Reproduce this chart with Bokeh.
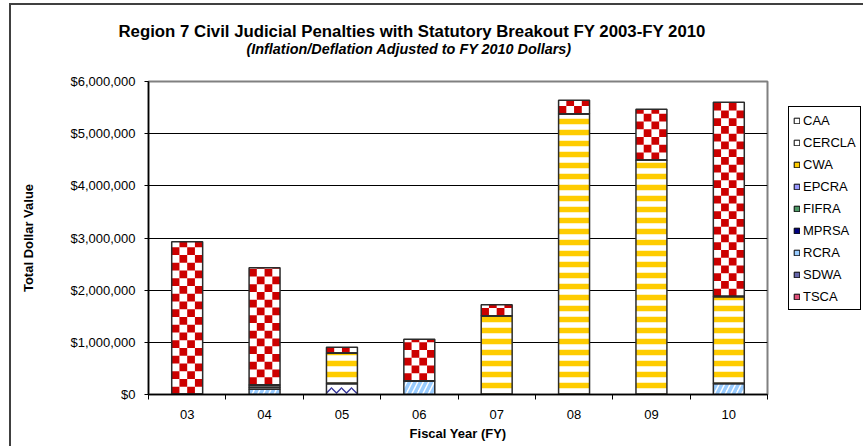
from bokeh.plotting import figure
from bokeh.layouts import row, column
from bokeh.models import (ColumnDataSource, Range1d, FixedTicker, NumeralTickFormatter,
                          Legend, LegendItem, Title, Spacer)
from bokeh.embed import file_html
from bokeh.resources import INLINE

years = ["03", "04", "05", "06", "07", "08", "09", "10"]
CAA = [0, 40000, 0, 0, 0, 0, 0, 0]
CERCLA = [0, 40000, 0, 0, 0, 0, 0, 0]
CWA = [0, 0, 580000, 0, 1510000, 5380000, 4490000, 1670000]
EPCRA = [0, 0, 0, 0, 0, 0, 0, 0]
FIFRA = [0, 0, 0, 0, 0, 0, 0, 0]
MPRSA = [0, 0, 0, 0, 0, 0, 0, 0]
RCRA = [0, 100000, 0, 260000, 0, 0, 0, 210000]
SDWA = [0, 0, 210000, 0, 0, 0, 0, 0]
TSCA = [2930000, 2250000, 115000, 800000, 210000, 260000, 980000, 3720000]
y_ticks = [0, 1000000, 2000000, 3000000, 4000000, 5000000, 6000000]

legend_names = ["CAA", "CERCLA", "CWA", "EPCRA", "FIFRA", "MPRSA", "RCRA", "SDWA", "TSCA"]
legend_colors = ["#FFFFFF", "#FFFFFF", "#FFCC00", "#9999FF", "#4D9966", "#000080",
                 "#99CCFF", "#6666AA", "#E0507A"]

FONT = "Liberation Sans"
FRAME_W, FRAME_H = 619, 313
Y_MAX = 6000000
BAR_W = 0.4
xpos = [i + 1 for i in range(len(years))]
series = {"SDWA": SDWA, "RCRA": RCRA, "CAA": CAA, "CERCLA": CERCLA, "CWA": CWA,
          "EPCRA": EPCRA, "FIFRA": FIFRA, "MPRSA": MPRSA, "TSCA": TSCA}
stack_order = ["SDWA", "RCRA", "CAA", "CERCLA", "CWA", "EPCRA", "FIFRA", "MPRSA", "TSCA"]

src = ColumnDataSource(dict(x=xpos, **series))

p = figure(frame_width=FRAME_W, frame_height=FRAME_H, output_backend="svg",
           toolbar_location=None,
           x_range=Range1d(0.5, len(years) + 0.5), y_range=Range1d(0, Y_MAX),
           min_border_left=137, min_border_right=96, min_border_top=76, min_border_bottom=52,
           title=None)
p.background_fill_color = "white"
p.border_fill_color = "white"
p.outline_line_color = "#808080"
p.outline_line_width = 2

hatch_pat = {"SDWA": "horizontal_wave", "RCRA": "right_diagonal_line", "CWA": "horizontal_line"}
hatch_col = {"SDWA": "#333399", "RCRA": "#99CCFF", "CWA": "#FFCC00"}
hatch_sc = {"SDWA": 10, "RCRA": 11, "CWA": 11}
hatch_w = {"SDWA": 1.3, "RCRA": 3.5, "CWA": 5.5}

p.vbar_stack(stack_order, x="x", width=BAR_W, source=src,
             fill_color="white", line_color=None,
             hatch_pattern=[hatch_pat.get(s, " ") for s in stack_order],
             hatch_color=[hatch_col.get(s, "white") for s in stack_order],
             hatch_scale=[hatch_sc.get(s, 8) for s in stack_order],
             hatch_weight=[hatch_w.get(s, 1) for s in stack_order])

# red/white checkerboard fill of the TSCA segments (cells derived from the data + scale)
cell_px = 7.75
cell_h = cell_px * Y_MAX / FRAME_H
ncols = 4
cell_w = BAR_W / ncols
L, R, B, T = [], [], [], []
for i, xc in enumerate(xpos):
    base = sum(series[s][i] for s in stack_order[:-1])
    top = base + TSCA[i]
    k = 0
    while base + k * cell_h < top - 1:
        rb = base + k * cell_h
        rt = min(rb + cell_h, top)
        for c in range(ncols):
            if (k + c) % 2 == 0:
                L.append(xc - BAR_W / 2 + c * cell_w)
                R.append(xc - BAR_W / 2 + (c + 1) * cell_w)
                B.append(rb)
                T.append(rt)
        k += 1
p.quad(left=L, right=R, bottom=B, top=T, fill_color="#CC0000", line_color=None)

# segment outlines
p.vbar_stack(stack_order, x="x", width=BAR_W, source=src,
             fill_color=None, line_color="#2b2b2b", line_width=1.5)

# legend swatches: zero-size bars (nothing visible on the plot)
items = []
for name, col in zip(legend_names, legend_colors):
    r = p.vbar(x="x", top=0, bottom=0, width=0, source=src,
               fill_color=col, line_color="#000000", line_width=1)
    items.append(LegendItem(label=name, renderers=[r]))
legend = Legend(items=items, location=(21, 84), glyph_width=7, glyph_height=7,
                label_text_font=FONT, label_text_font_size="13px", label_standoff=3,
                label_text_color="#000000",
                padding=4, spacing=4, label_height=18, margin=0,
                border_line_color="#000000", border_line_width=1, border_line_alpha=1,
                background_fill_color="white", background_fill_alpha=1)
p.add_layout(legend, "right")

# axes
xa = p.xaxis[0]
xa.ticker = FixedTicker(ticks=xpos, minor_ticks=[v - 0.5 for v in xpos] + [xpos[-1] + 0.5])
xa.major_label_overrides = {v: lab for v, lab in zip(xpos, years)}
xa.major_tick_line_color = None
xa.major_tick_out = 0
xa.major_tick_in = 0
xa.minor_tick_line_color = "#000000"
xa.minor_tick_out = 5
xa.minor_tick_in = 0
xa.axis_line_color = "#000000"
xa.axis_line_width = 1.5
xa.major_label_standoff = 10
xa.major_label_text_font = FONT
xa.major_label_text_font_size = "13px"
xa.major_label_text_color = "#000000"
xa.axis_label = "Fiscal Year (FY)"
xa.axis_label_text_font = FONT
xa.axis_label_text_font_size = "13px"
xa.axis_label_text_font_style = "bold"
xa.axis_label_text_color = "#000000"
xa.axis_label_standoff = 4

ya = p.yaxis[0]
ya.ticker = FixedTicker(ticks=y_ticks)
ya.formatter = NumeralTickFormatter(format="$0,0")
ya.major_tick_out = 4
ya.major_tick_in = 0
ya.major_tick_line_color = "#000000"
ya.minor_tick_line_color = None
ya.axis_line_color = "#000000"
ya.axis_line_width = 1.5
ya.major_label_standoff = 9
ya.major_label_text_font = FONT
ya.major_label_text_font_size = "13px"
ya.major_label_text_color = "#000000"
ya.axis_label = "Total Dollar Value"
ya.axis_label_text_font = FONT
ya.axis_label_text_font_size = "13px"
ya.axis_label_text_font_style = "bold"
ya.axis_label_text_color = "#000000"
ya.axis_label_standoff = 31

p.xgrid.grid_line_color = None
p.ygrid.grid_line_color = "#000000"
p.ygrid.grid_line_width = 1
p.ygrid.ticker = FixedTicker(ticks=y_ticks)

# above panel, stacked from the frame outward: gap, subtitle, title
gap = Title(text="\u00a0", text_font=FONT, text_font_size="10px", standoff=14)
p.add_layout(gap, "above")
sub = Title(text="(Inflation/Deflation Adjusted to FY 2010 Dollars)", text_font=FONT,
            text_font_size="14.4px", text_font_style="bold italic", align="left",
            text_color="#000000", offset=98, standoff=-4)
p.add_layout(sub, "above")
ttl = Title(text="Region 7 Civil Judicial Penalties with Statutory Breakout FY 2003-FY 2010",
            text_font=FONT, text_font_size="16.8px", text_font_style="bold", align="left",
            text_color="#000000", offset=-30, standoff=0)
p.add_layout(ttl, "above")

# outer chart border (left and top edges)
BORDER = {"background-color": "#404040"}
left_col = column(Spacer(width=2, height=3),
                  Spacer(width=2, height=443, styles=BORDER), spacing=0)
right_col = column(Spacer(width=852, height=3),
                   Spacer(width=852, height=2, styles=BORDER), p, spacing=0)
lay = row(Spacer(width=9, height=446), left_col, right_col, spacing=0)

open("out.html", "w").write(file_html(lay, INLINE))
